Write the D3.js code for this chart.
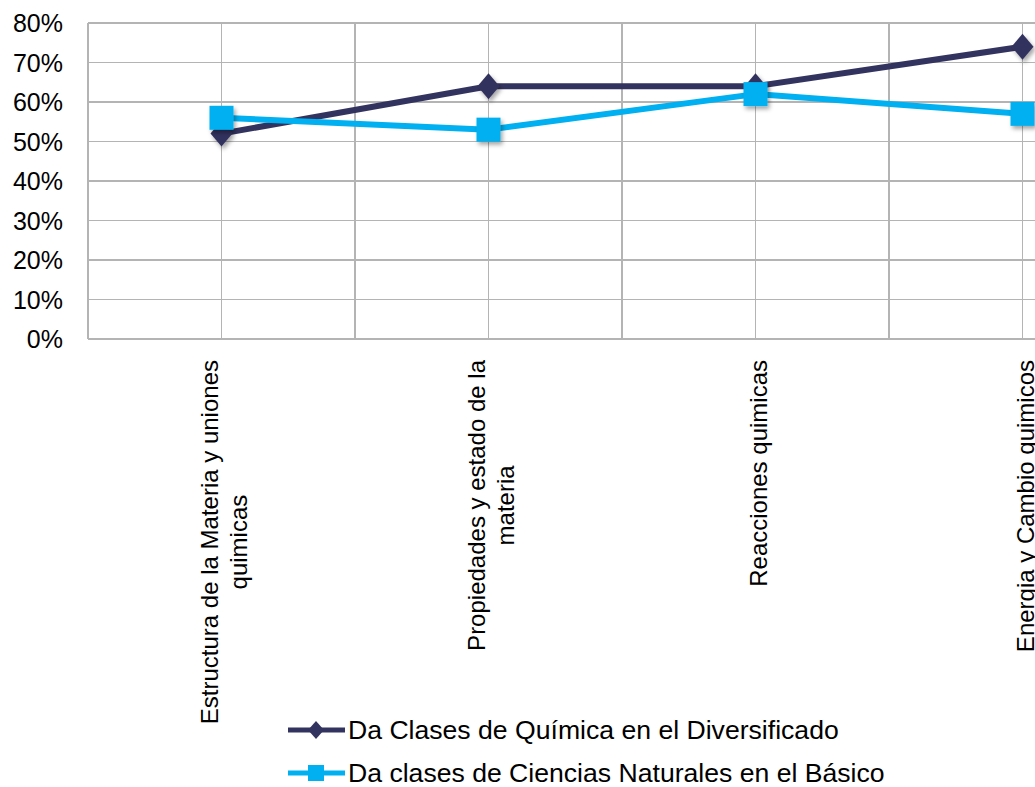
<html>
  <head>
    <meta charset="utf-8">
    <title>Clases de Química</title>
  </head>
  <style>
    body { margin: 0; background: #ffffff; }
    text { font-family: "Liberation Sans", Arial, sans-serif; fill: #000000; }
    .grid line { stroke: #b4b4b4; stroke-width: 1.3px; shape-rendering: crispEdges; }
    .axis path, .axis line { display: none; }
    .series { fill: none; stroke-width: 6px; stroke-linejoin: round; }
  </style>
  <body>
    <div id="chart"></div>
    <script src="https://cdn.jsdelivr.net/npm/d3@7"></script>
    <script>

      var categories  = [
                          ["Estructura de la Materia y uniones", "quimicas"],
                          ["Propiedades y estado de la", "materia"],
                          ["Reacciones quimicas"],
                          ["Energia y Cambio quimicos"]
                        ];
      var seriesNames = ["Da Clases de Química en el Diversificado",
                         "Da clases de Ciencias Naturales en el Básico"];
      var diversificado = [0.52, 0.64, 0.64, 0.74];
      var basico        = [0.56, 0.53, 0.62, 0.57];
      var yTicks        = [0, 0.1, 0.2, 0.3, 0.4, 0.5, 0.6, 0.7, 0.8];
      var colors        = ["#33335f", "#00b0f0"];

      var outerWidth  = 1035,
          outerHeight = 787,
          plotLeft    = 88,
          plotTop     = 23,
          plotBottom  = 339,
          bandW       = 267;

      var keys = categories.map(function(d, i){ return "c" + i; });

      var x = d3.scaleBand()
                .domain(keys)
                .range([plotLeft, plotLeft + bandW * keys.length])
                .padding(0);

      var y = d3.scaleLinear()
                .domain([0, 0.8])
                .range([plotBottom, plotTop]);

      function cx(i){ return x(keys[i]) + x.bandwidth() / 2; }

      var svg = d3.select("#chart")
                  .append("svg")
                  .attr("width", outerWidth)
                  .attr("height", outerHeight);

      var defs = svg.append("defs");
      defs.append("filter")
          .attr("id", "shadow")
          .attr("x", "-50%").attr("y", "-50%")
          .attr("width", "200%").attr("height", "200%")
          .append("feDropShadow")
          .attr("dx", 2).attr("dy", 3)
          .attr("stdDeviation", 2)
          .attr("flood-color", "#000")
          .attr("flood-opacity", 0.35);

      // gridlines
      var grid = svg.append("g").attr("class", "grid");

      grid.selectAll("line.h")
          .data(yTicks)
          .enter().append("line")
          .attr("class", "h")
          .attr("x1", plotLeft).attr("x2", outerWidth)
          .attr("y1", function(d){ return y(d); })
          .attr("y2", function(d){ return y(d); });

      // vertical lines on category edges and centers
      var vx = [];
      keys.forEach(function(k){ vx.push(x(k)); vx.push(x(k) + x.bandwidth() / 2); });
      vx.push(x.range()[1]);

      grid.selectAll("line.v")
          .data(vx)
          .enter().append("line")
          .attr("class", "v")
          .attr("x1", function(d){ return d; })
          .attr("x2", function(d){ return d; })
          .attr("y1", plotTop).attr("y2", plotBottom);

      // y axis labels
      var yAxis = d3.axisLeft(y)
                    .tickValues(yTicks)
                    .tickFormat(d3.format(".0%"))
                    .tickSize(0)
                    .tickPadding(0);

      var gY = svg.append("g")
                  .attr("class", "axis")
                  .attr("transform", "translate(63,0)")
                  .call(yAxis);
      gY.selectAll("text")
        .style("font-size", "25px")
        .attr("dy", "0.35em")
        .attr("x", 0);

      // category labels, rotated
      var labels = svg.append("g");
      categories.forEach(function(lines, i){
        var g = labels.append("g")
                      .attr("transform", "translate(" + cx(i) + ",360) rotate(-90)");
        var t = g.selectAll("text")
                 .data(lines)
                 .enter().append("text")
                 .style("font-size", "24px")
                 .attr("text-anchor", "middle")
                 .attr("y", function(d, j){ return 11 + (j - (lines.length - 1) / 2) * 29; })
                 .text(function(d){ return d; });
        var maxLen = d3.max(t.nodes(), function(n){ return n.getComputedTextLength(); });
        t.attr("x", -maxLen / 2);
      });

      // series
      var line = d3.line()
                   .x(function(d, i){ return cx(i); })
                   .y(function(d){ return y(d); });

      var diamond = function(w, h){
        return "M0," + (-h/2) + "L" + (w/2) + ",0L0," + (h/2) + "L" + (-w/2) + ",0Z";
      };

      svg.append("path")
         .datum(diversificado)
         .attr("class", "series")
         .attr("stroke", colors[0])
         .attr("d", line);

      svg.append("g").selectAll("path")
         .data(diversificado)
         .enter().append("path")
         .attr("transform", function(d, i){ return "translate(" + cx(i) + "," + y(d) + ")"; })
         .attr("d", diamond(22, 26))
         .attr("fill", colors[0])
         .attr("filter", "url(#shadow)");

      svg.append("path")
         .datum(basico)
         .attr("class", "series")
         .attr("stroke", colors[1])
         .attr("d", line);

      svg.append("g").selectAll("rect")
         .data(basico)
         .enter().append("rect")
         .attr("x", function(d, i){ return cx(i) - 12; })
         .attr("y", function(d){ return y(d) - 12; })
         .attr("width", 24).attr("height", 24)
         .attr("fill", colors[1])
         .attr("filter", "url(#shadow)");

      // legend
      var legend = svg.append("g");
      var rows = [730, 773];

      seriesNames.forEach(function(name, i){
        var r = legend.append("g").attr("transform", "translate(288," + rows[i] + ")");
        r.append("line")
         .attr("x1", 0).attr("x2", 57)
         .attr("stroke", colors[i])
         .attr("stroke-width", 5);
        if (i === 0) {
          r.append("path").attr("transform", "translate(28,0)").attr("d", diamond(16, 18)).attr("fill", colors[i]);
        } else {
          r.append("rect").attr("x", 20).attr("y", -8).attr("width", 16).attr("height", 16).attr("fill", colors[i]);
        }
        r.append("text")
         .attr("x", 60)
         .attr("dy", "0.35em")
         .style("font-size", "26.6px")
         .text(name);
      });

    </script>
  </body>
</html>
